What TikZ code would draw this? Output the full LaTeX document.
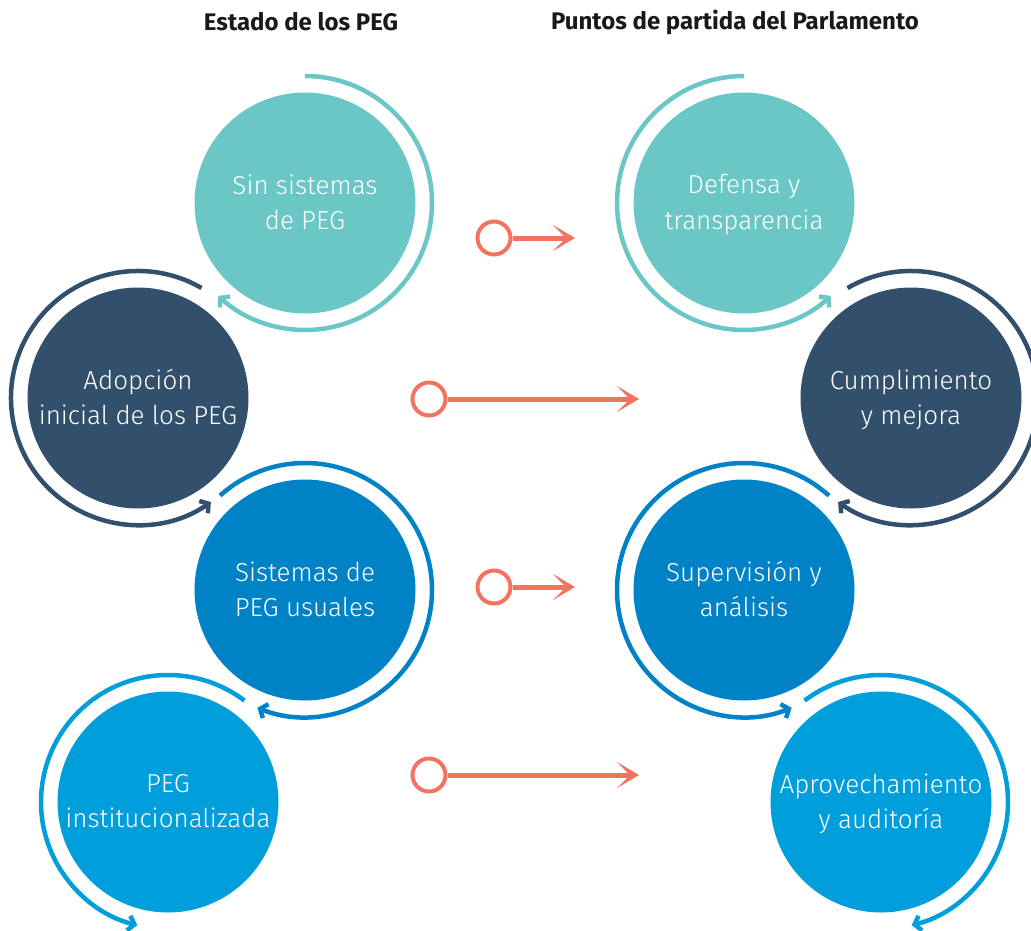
\documentclass[tikz,border=0pt]{standalone}
\usepackage{fontspec}
\setmainfont{Fira Sans}
\newfontfamily\lightfont{Fira Sans Light}
\usepackage{tikz}
\usetikzlibrary{arrows.meta}
\definecolor{pegteal}{RGB}{106,199,197}
\definecolor{pegnavy}{RGB}{50,79,108}
\definecolor{pegblue}{RGB}{0,130,198}
\definecolor{peglight}{RGB}{0,159,220}
\definecolor{pegorange}{RGB}{243,115,96}
\tikzset{
	stage/.style={circle,minimum size=221pt,inner sep=0pt,text=white,align=center,
		font=\lightfont\fontsize{26}{35.5}\selectfont,text depth=2pt},
	ring/.style={line width=4.5pt,-{Straight Barb[length=6pt,width=15pt]}},
	knob/.style={circle,draw=pegorange,line width=4pt,minimum size=33pt,inner sep=0pt},
	flow/.style={pegorange,line width=5pt,-{Stealth[length=22pt,width=26pt,inset=13pt]}},
	heading/.style={font=\fontsize{24}{28}\selectfont\bfseries,text=black!90}
}
\begin{document}
\begin{tikzpicture}[x=1pt,y=1pt]
	\useasboundingbox (0,0) rectangle (1031,-930);
	\node[heading] (t1) at (301,-22) {Estado de los PEG};
	\node[heading] (t2) at (735,-22) {Puntos de partida del Parlamento};
	\node[stage,fill=pegteal] (sin) at (305,-203) {Sin sistemas\\de PEG};
	\node[stage,fill=pegnavy] (adop) at (138,-398) {Adopción\\inicial de los PEG};
	\node[stage,fill=pegblue] (usu) at (305,-590) {Sistemas de\\PEG usuales};
	\node[stage,fill=peglight] (inst) at (168,-802) {PEG\\institucionalizada};
	\node[stage,fill=pegteal] (def) at (744,-203) {Defensa y\\transparencia};
	\node[stage,fill=pegnavy] (cump) at (911,-398) {Cumplimiento\\y mejora};
	\node[stage,fill=pegblue] (sup) at (744,-590) {Supervisión y\\análisis};
	\node[stage,fill=peglight] (apr) at (881,-802) {Aprovechamiento\\y auditoría};
	\draw[ring,pegteal] ([shift={(90:127)}]sin.center) arc[start angle=90,end angle=-133,radius=127];
	\draw[ring,pegnavy] ([shift={(60:127)}]adop.center) arc[start angle=60,end angle=305,radius=127];
	\draw[ring,pegblue] ([shift={(132:127)}]usu.center) arc[start angle=132,end angle=-112,radius=127];
	\draw[ring,peglight] ([shift={(53:127)}]inst.center) arc[start angle=53,end angle=256,radius=127];
	\draw[ring,pegteal] ([shift={(90:127)}]def.center) arc[start angle=90,end angle=313,radius=127];
	\draw[ring,pegnavy] ([shift={(120:127)}]cump.center) arc[start angle=120,end angle=-125,radius=127];
	\draw[ring,pegblue] ([shift={(48:127)}]sup.center) arc[start angle=48,end angle=292,radius=127];
	\draw[ring,peglight] ([shift={(127:127)}]apr.center) arc[start angle=127,end angle=-76,radius=127];
	\node[knob] (k1) at (494,-238) {};
	\coordinate (e1) at (575,-238);
	\draw[flow] (k1) -- (e1);
	\node[knob] (k2) at (429,-399) {};
	\coordinate (e2) at (639,-399);
	\draw[flow] (k2) -- (e2);
	\node[knob] (k3) at (494,-587) {};
	\coordinate (e3) at (575,-587);
	\draw[flow] (k3) -- (e3);
	\node[knob] (k4) at (429,-775) {};
	\coordinate (e4) at (639,-775);
	\draw[flow] (k4) -- (e4);
\end{tikzpicture}
\end{document}
